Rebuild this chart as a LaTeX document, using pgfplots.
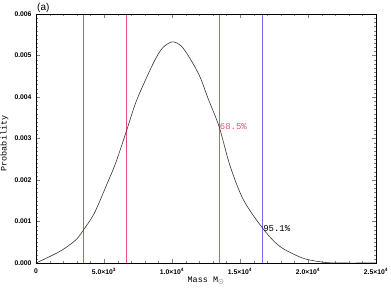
\documentclass[border=0pt]{standalone}
\usepackage{fontspec}
\setmainfont{Liberation Serif}
\setsansfont{Liberation Sans}
\setmonofont{Liberation Mono}
\usepackage{pgfplots}
\pgfplotsset{compat=1.18}
\definecolor{myblue}{rgb}{0.43,0.43,0.94}
\definecolor{myred}{rgb}{0.92,0.31,0.43}
\begin{document}
\begin{tikzpicture}
\useasboundingbox (-36bp,-25bp) rectangle (355bp,263bp);
\begin{axis}[
 scale only axis, width=340bp, height=249bp,
 at={(0,0)}, anchor=south west,
 xmin=0, xmax=25000, ymin=0, ymax=0.006,
 xtick={0,5000,10000,15000,20000,25000},
 xticklabels={0, 5.0×10\textsuperscript{3}, 1.0×10\textsuperscript{4}, 1.5×10\textsuperscript{4}, 2.0×10\textsuperscript{4}, 2.5×10\textsuperscript{4}},
 minor x tick num=4,
 ytick={0,0.001,0.002,0.003,0.004,0.005,0.006},
 yticklabels={0.000,0.001,0.002,0.003,0.004,0.005,0.006},
 minor y tick num=9,
 tick label style={font=\sffamily\bfseries\fontsize{6.8}{7}\selectfont},
 xticklabel style={yshift=-2bp},
 yticklabel style={xshift=-1bp},
 scaled ticks=false,
 major tick length=4bp, minor tick length=2bp,
 ylabel={Probability}, xlabel={Mass M$_\odot$},
 label style={font=\ttfamily\fontsize{8.5}{10}\selectfont},
 xlabel style={anchor=center, at={(axis description cs:0.5,-0.07)}},
 ylabel style={anchor=center, at={(axis description cs:-0.093,0.48)}},
 clip=false,
 axis on top,
]
\addplot[myblue, line width=1.6bp, mark=none] coordinates {(3500,0) (3500,0.006)};
\addplot[myblue, line width=1.6bp, mark=none] coordinates {(16660,0) (16660,0.006)};
\addplot[myred, line width=1.1bp, mark=none] coordinates {(6670,0) (6670,0.006)};
\addplot[myred, line width=1.1bp, mark=none] coordinates {(13470,0) (13470,0.006)};
\addplot[black!80, line width=0.6pt, smooth, mark=none] coordinates {
(0,0) (980,0.00015) (1960,0.00032) (2940,0.00056) (3500,0.00080)
(4290,0.00120) (5150,0.00185) (5880,0.00243) (6670,0.00320) (7400,0.00392)
(8620,0.00481) (9300,0.00518) (10040,0.00533) (10700,0.00522) (11320,0.00493)
(12050,0.00449) (12670,0.00395) (13470,0.00328) (14260,0.00235) (15240,0.00153)
(16660,0.00084) (17930,0.00040) (19600,0.00012) (21100,0.00002) (22300,0) (25000,0)};
\node[anchor=west, text=myred, font=\ttfamily\fontsize{9}{9}\selectfont, inner sep=0.5pt] at (axis cs:13470,0.00328) {68.5\%};
\node[anchor=west, font=\ttfamily\fontsize{9}{9}\selectfont, inner sep=0.5pt] at (axis cs:16660,0.00084) {95.1\%};
\node[anchor=south west, font=\sffamily\fontsize{10}{11}\selectfont, inner sep=1pt] at (rel axis cs:0,1) {(a)};
\end{axis}
\end{tikzpicture}
\end{document}
